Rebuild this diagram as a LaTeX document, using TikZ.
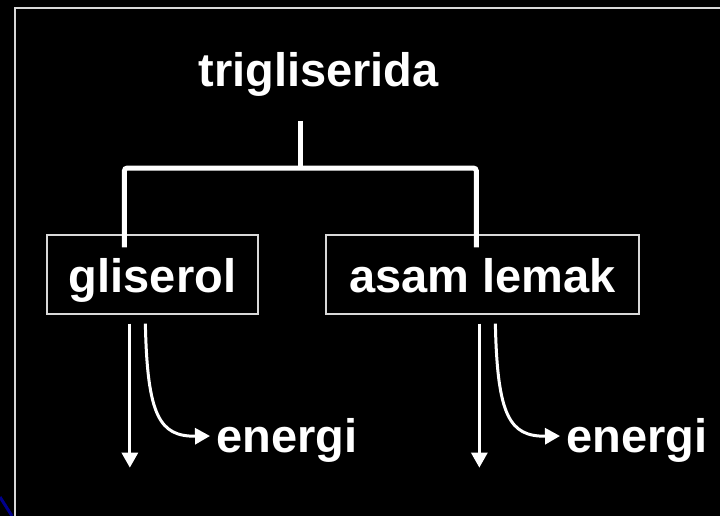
\documentclass[tikz,border=0pt]{standalone}
\usepackage{fontspec}
\setmainfont{Liberation Sans}
\usetikzlibrary{arrows.meta,calc}

\tikzset{
  label text/.style={text=white, font=\bfseries\fontsize{47}{56}\selectfont, inner sep=0pt},
  itembox/.style={draw=white!85!black, line width=1.3pt, label text,
    minimum height=79pt, text height=35pt, text depth=0pt},
  bracket/.style={draw=white, line width=5pt, rounded corners=3pt},
  flow/.style={draw=white, line width=3pt,
    -{Triangle[width=16pt,length=15pt]}},
  outcome/.style={label text, anchor=base west, inner xsep=6pt,
    text height=32pt, text depth=0pt},
}

\begin{document}
\begin{tikzpicture}[x=1pt, y=-1pt]
  % page
  \fill[black] (0,0) rectangle (720,516);
  \useasboundingbox (0,0) rectangle (720,516);

  % slide frame and corner accent
  \draw[white!85!black, line width=2pt] (14.5,516) -- (14.5,8.5) -- (720,8.5);
  \draw[blue!55!black, line width=3pt] (0,497) -- (12,516);

  % parent compound
  \node[label text, anchor=base] (trig) at (318.5,87) {trigliserida};

  % products
  \node[itembox, minimum width=211pt] (gbox) at (152.5,274.5) {gliserol};
  \node[itembox, minimum width=313pt] (abox) at (482.5,274.5) {asam lemak};

  % splitting bracket
  \coordinate (stem) at ($(trig.base)+(-18.5,34)$);
  \coordinate (fork) at ($(stem)+(0,47)$);
  \coordinate (jl) at ($(gbox.north west)+(78,13)$);
  \coordinate (jr) at ($(abox.north west)+(151,13)$);
  \draw[bracket] (jl) |- (fork) -| (jr);
  \draw[bracket, rounded corners=0pt] (stem) -- (fork);

  % energy released
  \node[outcome] (e1) at (210,452) {energi};
  \node[outcome] (e2) at (560,452) {energi};

  % glycerol pathways
  \coordinate (g1) at ($(gbox.south west)+(83.5,9)$);
  \coordinate (g2) at ($(gbox.south west)+(99,9)$);
  \coordinate (gd) at ($(g1)+(0,144)$);
  \draw[flow] (g1) -- (gd);
  \draw[flow] (g2) .. controls ($(g2)+(2,92)$) and ($(g2)+(14,113)$) .. (e1.west);

  % fatty acid pathways
  \coordinate (a1) at ($(abox.south west)+(154,9)$);
  \coordinate (a2) at ($(abox.south west)+(170,9)$);
  \coordinate (ad) at ($(a1)+(0,144)$);
  \draw[flow] (a1) -- (ad);
  \draw[flow] (a2) .. controls ($(a2)+(2,92)$) and ($(a2)+(14,113)$) .. (e2.west);
\end{tikzpicture}
\end{document}
